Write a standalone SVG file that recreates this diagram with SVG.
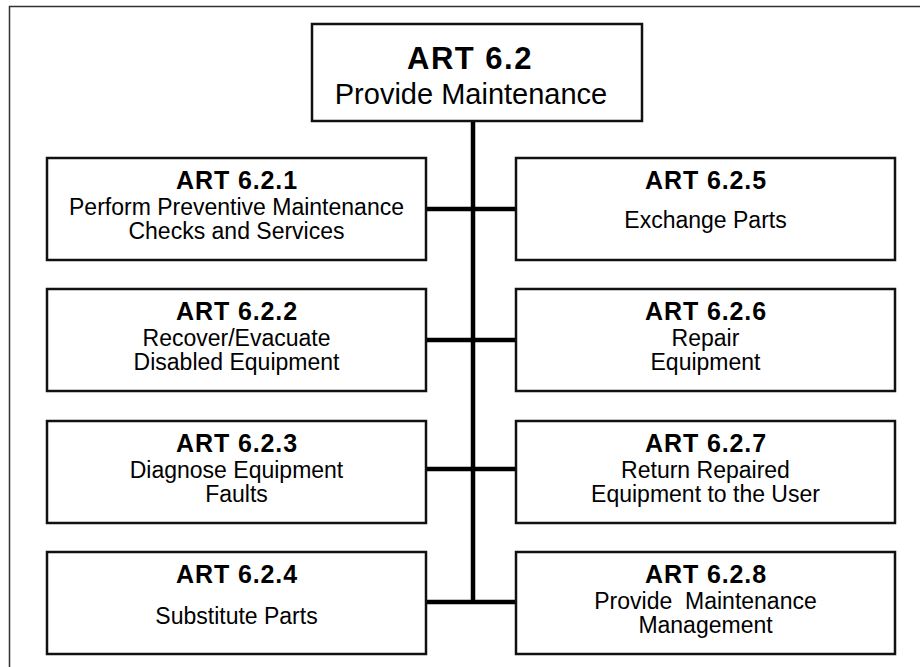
<svg xmlns="http://www.w3.org/2000/svg" width="920" height="667" viewBox="0 0 920 667">
<style>
.frame{fill:none;stroke:#333;stroke-width:1.5}
.box{fill:#fff;stroke:#111;stroke-width:2.5}
.conn{stroke:#000;stroke-width:4.5;fill:none}
.t{font-family:"Liberation Sans",Arial,Helvetica,sans-serif;font-weight:bold;font-size:25px;letter-spacing:0.9px;text-anchor:middle;fill:#000}
.b{font-family:"Liberation Sans",Arial,Helvetica,sans-serif;font-size:23px;text-anchor:middle;fill:#000}
.tt{font-family:"Liberation Sans",Arial,Helvetica,sans-serif;font-weight:bold;font-size:31px;letter-spacing:1.5px;text-anchor:middle;fill:#000}
.tb{font-family:"Liberation Sans",Arial,Helvetica,sans-serif;font-size:29px;text-anchor:middle;fill:#000}
</style>
<rect width="920" height="667" fill="#fff"/>
<path class="frame" d="M9.5,667 V6.5 H920"/>
<g id="connectors">
<line class="conn" x1="473" y1="121" x2="473" y2="604"/>
<line class="conn" x1="426" y1="209" x2="516" y2="209"/>
<line class="conn" x1="426" y1="340" x2="516" y2="340"/>
<line class="conn" x1="426" y1="469" x2="516" y2="469"/>
<line class="conn" x1="426" y1="602" x2="516" y2="602"/>
</g>
<g id="art62">
<rect class="box" x="312" y="24" width="330" height="97"/>
<text class="tt" x="470" y="69">ART 6.2</text>
<text class="tb" x="471" y="104">Provide Maintenance</text>
</g>
<g id="art621">
<rect class="box" x="47" y="158" width="379" height="102"/>
<text class="t" x="237" y="189">ART 6.2.1</text>
<text class="b" x="236.5" y="215">Perform Preventive Maintenance</text>
<text class="b" x="236.5" y="239">Checks and Services</text>
</g>
<g id="art622">
<rect class="box" x="47" y="289" width="379" height="102"/>
<text class="t" x="237" y="320">ART 6.2.2</text>
<text class="b" x="236.5" y="346">Recover/Evacuate</text>
<text class="b" x="236.5" y="370">Disabled Equipment</text>
</g>
<g id="art623">
<rect class="box" x="47" y="421" width="379" height="102"/>
<text class="t" x="237" y="452">ART 6.2.3</text>
<text class="b" x="236.5" y="478">Diagnose Equipment</text>
<text class="b" x="236.5" y="502">Faults</text>
</g>
<g id="art624">
<rect class="box" x="47" y="552" width="379" height="102"/>
<text class="t" x="237" y="583">ART 6.2.4</text>
<text class="b" x="236.5" y="624">Substitute Parts</text>
</g>
<g id="art625">
<rect class="box" x="516" y="158" width="379" height="102"/>
<text class="t" x="706" y="189">ART 6.2.5</text>
<text class="b" x="705.5" y="228">Exchange Parts</text>
</g>
<g id="art626">
<rect class="box" x="516" y="289" width="379" height="102"/>
<text class="t" x="706" y="320">ART 6.2.6</text>
<text class="b" x="705.5" y="346">Repair</text>
<text class="b" x="705.5" y="370">Equipment</text>
</g>
<g id="art627">
<rect class="box" x="516" y="421" width="379" height="102"/>
<text class="t" x="706" y="452">ART 6.2.7</text>
<text class="b" x="705.5" y="478">Return Repaired</text>
<text class="b" x="705.5" y="502">Equipment to the User</text>
</g>
<g id="art628">
<rect class="box" x="516" y="552" width="379" height="102"/>
<text class="t" x="706" y="583">ART 6.2.8</text>
<text class="b" x="705.5" y="609" xml:space="preserve">Provide  Maintenance</text>
<text class="b" x="705.5" y="633">Management</text>
</g>
</svg>
